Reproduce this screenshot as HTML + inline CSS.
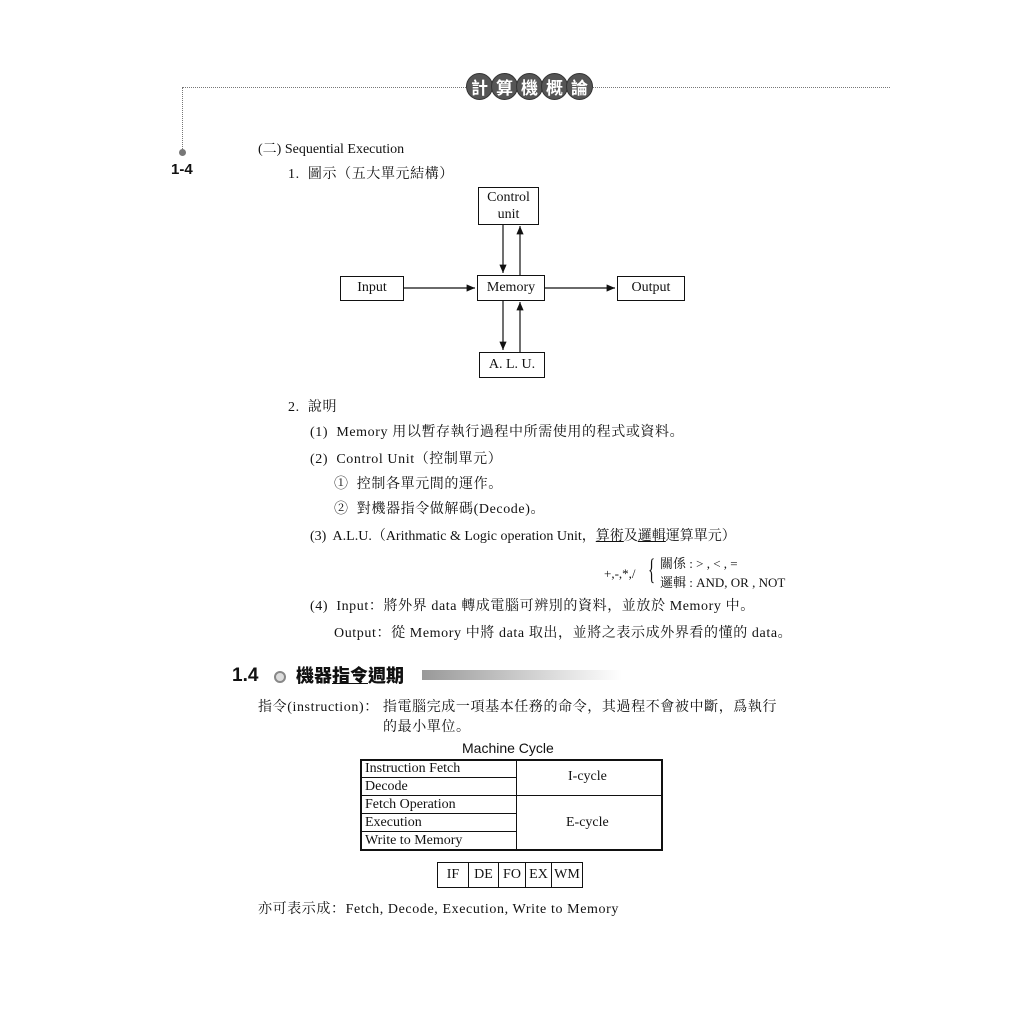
<!DOCTYPE html>
<html><head><meta charset="utf-8"><style>
body{margin:0;width:1024px;height:1024px;background:#fff;position:relative;overflow:hidden;font-family:"Liberation Serif","Noto Serif CJK SC","Noto Sans CJK TC",serif;color:#111}
.t{position:absolute;white-space:nowrap;font-size:14px;line-height:16px}
.w{letter-spacing:0.6px}
.c{position:absolute;width:25px;height:25px;border-radius:50%;background:#555;color:#fff;font-family:"Noto Sans CJK TC",sans-serif;font-weight:bold;font-size:17px;line-height:25px;text-align:center;border:1px solid #333}
.b{position:absolute;border:1.5px solid #111;box-sizing:border-box;text-align:center;font-size:14px;background:#fff}
.sans{font-family:"Liberation Sans","Noto Sans CJK TC",sans-serif}
</style></head><body>
<div style="position:absolute;left:182px;top:87px;width:708px;border-top:1.5px dotted #777"></div>
<div style="position:absolute;left:182px;top:87px;height:64px;border-left:1.5px dotted #777"></div>
<div style="position:absolute;left:179px;top:149px;width:7px;height:7px;border-radius:50%;background:#777"></div>
<div class="c" style="left:466px;top:73px">計</div>
<div class="c" style="left:491px;top:73px">算</div>
<div class="c" style="left:516px;top:73px">機</div>
<div class="c" style="left:541px;top:73px">概</div>
<div class="c" style="left:566px;top:73px">論</div>
<div class="t sans" style="left:171px;top:162px;font-weight:bold;font-size:15px">1-4</div>
<div class="t" style="left:258px;top:142px">(二) Sequential Execution</div>
<div class="t w" style="left:288px;top:167px">1.&nbsp; 圖示（五大單元結構）</div>
<svg style="position:absolute;left:0;top:0" width="1024" height="1024">
<defs><marker id="a" markerWidth="8" markerHeight="8" refX="7" refY="3" orient="auto"><path d="M0,0 L7,3 L0,6 z" fill="#111"/></marker></defs>
<g stroke="#111" stroke-width="1.2" marker-end="url(#a)">
<line x1="503" y1="224" x2="503" y2="273"/>
<line x1="520" y1="275" x2="520" y2="226"/>
<line x1="503" y1="300" x2="503" y2="350"/>
<line x1="520" y1="352" x2="520" y2="302"/>
<line x1="404" y1="288" x2="475" y2="288"/>
<line x1="545" y1="288" x2="615" y2="288"/>
</g></svg>
<div class="b" style="left:478px;top:187px;width:61px;height:38px;line-height:17px;padding-top:1px">Control<br>unit</div>
<div class="b" style="left:477px;top:275px;width:68px;height:26px;line-height:23px">Memory</div>
<div class="b" style="left:340px;top:276px;width:64px;height:25px;line-height:22px">Input</div>
<div class="b" style="left:617px;top:276px;width:68px;height:25px;line-height:22px">Output</div>
<div class="b" style="left:479px;top:352px;width:66px;height:26px;line-height:23px">A. L. U.</div>
<div class="t w" style="left:288px;top:400px">2.&nbsp; 說明</div>
<div class="t w" style="left:310px;top:425px">(1)&nbsp; Memory 用以暫存執行過程中所需使用的程式或資料。</div>
<div class="t w" style="left:310px;top:452px">(2)&nbsp; Control Unit（控制單元）</div>
<div class="t w" style="left:334px;top:477px">①&nbsp; 控制各單元間的運作。</div>
<div class="t w" style="left:334px;top:502px">②&nbsp; 對機器指令做解碼(Decode)。</div>
<div class="t" style="left:310px;top:529px">(3)&nbsp; A.L.U.（Arithmatic &amp; Logic operation Unit，<u>算術</u>及<u>邏輯</u>運算單元）</div>
<div class="t" style="left:604px;top:566px;font-size:13px">+,-,*,/</div>
<div class="t" style="left:648px;top:552px;font-size:30px;line-height:36px;transform:scaleX(0.5);transform-origin:left">{</div>
<div class="t" style="left:660px;top:556px;font-size:13px">關係 : &gt; , &lt; , =</div>
<div class="t" style="left:660px;top:575px;font-size:13px">邏輯 : AND, OR , NOT</div>
<div class="t w" style="left:310px;top:599px">(4)&nbsp; Input：將外界 data 轉成電腦可辨別的資料，並放於 Memory 中。</div>
<div class="t w" style="left:334px;top:626px">Output：從 Memory 中將 data 取出，並將之表示成外界看的懂的 data。</div>
<div class="t sans" style="left:232px;top:666px;font-size:19px;line-height:20px;font-weight:bold">1.4</div>
<div style="position:absolute;left:274px;top:671px;width:8px;height:8px;border-radius:50%;border:2px solid #888;background:#ddd"></div>
<div class="t sans" style="left:296px;top:665px;font-size:18px;line-height:22px;font-weight:900">機器<u>指令</u>週期</div>
<div style="position:absolute;left:422px;top:670px;width:200px;height:10px;background:linear-gradient(to right,#999,#fff)"></div>
<div class="t w" style="left:258px;top:700px">指令(instruction)：&nbsp;指電腦完成一項基本任務的命令，其過程不會被中斷，爲執行</div>
<div class="t w" style="left:383px;top:720px">的最小單位。</div>
<div class="t sans" style="left:462px;top:740px">Machine Cycle</div>
<div style="position:absolute;left:360px;top:759px;width:303px;height:92px;border:2px solid #111;box-sizing:border-box"></div>
<div style="position:absolute;left:516px;top:759px;height:92px;border-left:1px solid #111"></div>
<div style="position:absolute;left:516px;top:795px;width:147px;border-top:1px solid #111"></div>
<div style="position:absolute;left:362px;top:777px;width:154px;border-top:1px solid #111"></div>
<div style="position:absolute;left:362px;top:795px;width:154px;border-top:1px solid #111"></div>
<div style="position:absolute;left:362px;top:813px;width:154px;border-top:1px solid #111"></div>
<div style="position:absolute;left:362px;top:831px;width:154px;border-top:1px solid #111"></div>
<div class="t" style="left:365px;top:761px">Instruction Fetch</div>
<div class="t" style="left:365px;top:779px">Decode</div>
<div class="t" style="left:365px;top:797px">Fetch Operation</div>
<div class="t" style="left:365px;top:815px">Execution</div>
<div class="t" style="left:365px;top:833px">Write to Memory</div>
<div class="t" style="left:568px;top:769px">I-cycle</div>
<div class="t" style="left:566px;top:815px">E-cycle</div>
<div style="position:absolute;left:437px;top:862px;display:flex;border:1px solid #111">
<div style="width:30px;height:24px;border-right:1px solid #111;text-align:center;line-height:24px;font-size:14px">IF</div>
<div style="width:29px;border-right:1px solid #111;text-align:center;line-height:24px;font-size:14px">DE</div>
<div style="width:26px;border-right:1px solid #111;text-align:center;line-height:24px;font-size:14px">FO</div>
<div style="width:25px;border-right:1px solid #111;text-align:center;line-height:24px;font-size:14px">EX</div>
<div style="width:30px;text-align:center;line-height:24px;font-size:14px">WM</div>
</div>
<div class="t w" style="left:258px;top:902px">亦可表示成：Fetch, Decode, Execution, Write to Memory</div>
</body></html>
